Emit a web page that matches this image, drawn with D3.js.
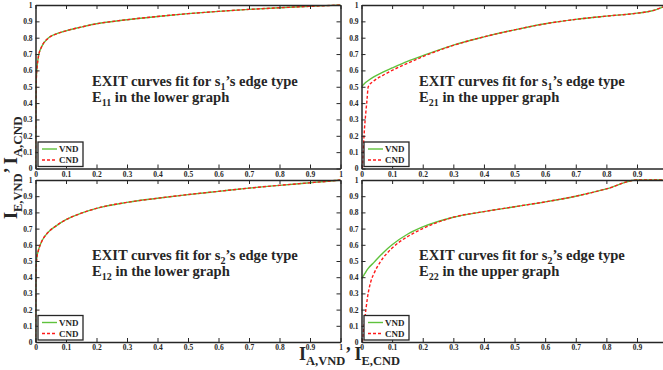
<!DOCTYPE html>
<html>
<head>
<meta charset="utf-8">
<script src="https://cdn.jsdelivr.net/npm/d3@7"></script>
<style>
  body { margin: 0; background: #fff; }
  svg { display: block; font-family: "Liberation Serif", "Times New Roman", serif; font-weight: bold; }
</style>
</head>
<body>
<svg id="chart" width="663" height="370"></svg>
<script>
// tick values and labels shared by all four panels
const tickValues = [0, 0.1, 0.2, 0.3, 0.4, 0.5, 0.6, 0.7, 0.8, 0.9, 1];
const tickLabels = ['0', '0.1', '0.2', '0.3', '0.4', '0.5', '0.6', '0.7', '0.8', '0.9', '1'];

// common x grid (I_A) for the VND curves
const xGrid = [0, 0.001, 0.003, 0.005, 0.01, 0.02, 0.04, 0.07, 0.1, 0.15, 0.2, 0.3, 0.4, 0.5, 0.6, 0.7, 0.8, 0.9, 0.95, 1];

// E11 : s1 edge type, lower graph
const e11Vnd = [0, 0.42, 0.57, 0.62, 0.69, 0.745, 0.795, 0.825, 0.842, 0.865, 0.885, 0.91, 0.93, 0.947, 0.961, 0.973, 0.983, 0.992, 0.996, 1];
const e11Cnd = [0, 0.40, 0.56, 0.615, 0.688, 0.744, 0.794, 0.824, 0.842, 0.865, 0.885, 0.91, 0.93, 0.947, 0.961, 0.973, 0.983, 0.992, 0.996, 1];

// E21 : s1 edge type, upper graph
const e21Vnd = [0.5, 0.502, 0.506, 0.51, 0.52, 0.535, 0.56, 0.59, 0.615, 0.655, 0.69, 0.755, 0.805, 0.848, 0.885, 0.912, 0.932, 0.95, 0.965, 1];
const e21CndX = [0.003, 0.006, 0.01, 0.014, 0.018, 0.022, 0.04, 0.07, 0.1, 0.15, 0.2, 0.3, 0.4, 0.5, 0.6, 0.7, 0.8, 0.9, 0.95, 1];
const e21Cnd = [0, 0.12, 0.25, 0.34, 0.42, 0.5, 0.535, 0.57, 0.6, 0.643, 0.684, 0.753, 0.805, 0.848, 0.885, 0.912, 0.932, 0.95, 0.965, 1];

// E12 : s2 edge type, lower graph
const e12Vnd = [0, 0.45, 0.5, 0.53, 0.57, 0.62, 0.675, 0.72, 0.755, 0.795, 0.825, 0.862, 0.887, 0.91, 0.93, 0.95, 0.967, 0.983, 0.991, 1];
const e12Cnd = [0, 0.44, 0.495, 0.528, 0.568, 0.619, 0.674, 0.72, 0.755, 0.795, 0.825, 0.862, 0.887, 0.91, 0.93, 0.95, 0.967, 0.983, 0.991, 1];

// E22 : s2 edge type, upper graph
const e22Vnd = [0.39, 0.393, 0.4, 0.405, 0.42, 0.45, 0.49, 0.55, 0.6, 0.665, 0.71, 0.77, 0.805, 0.835, 0.865, 0.9, 0.945, 1, 1, 1];
const e22CndX = [0.003, 0.006, 0.01, 0.015, 0.02, 0.03, 0.04, 0.06, 0.1, 0.15, 0.2, 0.3, 0.4, 0.5, 0.6, 0.7, 0.8, 0.9, 0.95, 1];
const e22Cnd = [0, 0.06, 0.13, 0.21, 0.28, 0.37, 0.42, 0.49, 0.58, 0.65, 0.70, 0.77, 0.805, 0.835, 0.865, 0.9, 0.945, 1, 1, 1];

const legendNames = ['VND', 'CND'];

const panels = [
  { col: 0, row: 0, sub: '1', edge: '11', where: 'lower', vx: xGrid, vy: e11Vnd, cx: xGrid, cy: e11Cnd },
  { col: 1, row: 0, sub: '1', edge: '21', where: 'upper', vx: xGrid, vy: e21Vnd, cx: e21CndX, cy: e21Cnd },
  { col: 0, row: 1, sub: '2', edge: '12', where: 'lower', vx: xGrid, vy: e12Vnd, cx: xGrid, cy: e12Cnd },
  { col: 1, row: 1, sub: '2', edge: '22', where: 'upper', vx: xGrid, vy: e22Vnd, cx: e22CndX, cy: e22Cnd }
];

const cols = [[35.5, 340.5], [361.5, 667.6]];
const rows = [[5, 168.5], [180, 342]];
const green = '#5fc23c', red = '#ff1a1a', ink = '#262626';

const svg = d3.select('#chart');

panels.forEach((p, i) => {
  const [x0, x1] = cols[p.col];
  const [y0, y1] = rows[p.row];
  const x = d3.scaleLinear().domain([0, 1]).range([x0, x1]);
  const y = d3.scaleLinear().domain([0, 1]).range([y1, y0]);
  const g = svg.append('g');

  g.append('clipPath').attr('id', 'clip' + i)
    .append('rect').attr('x', x0).attr('y', y0 - 1).attr('width', x1 - x0).attr('height', y1 - y0 + 1);

  const line = d3.line().x(d => x(d[0])).y(d => y(d[1])).curve(d3.curveMonotoneX);
  const vnd = p.vx.map((v, j) => [v, p.vy[j]]);
  const cnd = p.cx.map((v, j) => [v, p.cy[j]]);

  const curves = g.append('g').attr('clip-path', `url(#clip${i})`);
  curves.append('path').attr('d', line(vnd)).attr('fill', 'none')
    .attr('stroke', green).attr('stroke-width', 1.4);
  curves.append('path').attr('d', line(cnd)).attr('fill', 'none')
    .attr('stroke', red).attr('stroke-width', 1.4).attr('stroke-dasharray', '3,2');

  // the right column runs past the window edge, its "1" label is not visible
  const fmt = (d, k) => (p.col === 1 && k === tickLabels.length - 1) ? '' : tickLabels[k];
  const styleAxis = a => {
    a.selectAll('path.domain').attr('stroke', ink).attr('stroke-width', 1.5);
    a.selectAll('.tick line').attr('stroke', ink).attr('stroke-width', 1);
    a.selectAll('.tick text').attr('fill', ink).attr('font-size', 7.5)
      .attr('font-family', '"Liberation Serif", serif').attr('font-weight', 'bold');
  };

  g.append('g').attr('transform', `translate(0,${y1})`)
    .call(d3.axisBottom(x).tickValues(tickValues).tickFormat(fmt).tickSizeInner(-4).tickSizeOuter(0).tickPadding(3))
    .call(styleAxis);
  g.append('g').attr('transform', `translate(${x0},0)`)
    .call(d3.axisLeft(y).tickValues(tickValues).tickFormat((d, k) => tickLabels[k]).tickSizeInner(-4).tickSizeOuter(0).tickPadding(3))
    .call(styleAxis);
  g.append('g').attr('transform', `translate(0,${y0})`)
    .call(d3.axisTop(x).tickValues(tickValues).tickFormat('').tickSizeInner(-4).tickSizeOuter(0))
    .call(styleAxis);
  g.append('g').attr('transform', `translate(${x1},0)`)
    .call(d3.axisRight(y).tickValues(tickValues).tickFormat('').tickSizeInner(-4).tickSizeOuter(0))
    .call(styleAxis);

  // annotation
  const tx = p.col === 0 ? 92 : 419;
  const ty = p.row === 0 ? 86 : 260;
  const t1 = g.append('text').attr('x', tx).attr('y', ty).attr('font-size', 14.6).attr('fill', ink);
  t1.append('tspan').text('EXIT curves fit for s');
  t1.append('tspan').attr('font-size', 10).attr('dy', 4).text(p.sub);
  t1.append('tspan').attr('dy', -4).text('\u2019s edge type');
  const t2 = g.append('text').attr('x', tx).attr('y', ty + 16).attr('font-size', 14.6).attr('fill', ink);
  t2.append('tspan').text('E');
  t2.append('tspan').attr('font-size', 10).attr('dy', 4).text(p.edge);
  t2.append('tspan').attr('dy', -4).text(' in the ' + p.where + ' graph');

  // legend
  const lx = x0 + 2.5, ly = y1 - 26.5;
  const lg = g.append('g');
  lg.append('rect').attr('x', lx).attr('y', ly).attr('width', 45).attr('height', 24.5)
    .attr('fill', '#fff').attr('stroke', ink).attr('stroke-width', 1.3);
  legendNames.forEach((name, k) => {
    const yy = ly + 7 + k * 11;
    lg.append('line').attr('x1', lx + 4).attr('x2', lx + 19).attr('y1', yy).attr('y2', yy)
      .attr('stroke', k === 0 ? green : red).attr('stroke-width', 1.4)
      .attr('stroke-dasharray', k === 0 ? null : '3,2');
    lg.append('text').attr('x', lx + 21).attr('y', yy + 3.2).attr('font-size', 9).attr('fill', ink).text(name);
  });
});

// axis labels
const ylab = svg.append('text').attr('transform', 'translate(17,219) rotate(-90)')
  .attr('font-size', 18).attr('fill', ink);
ylab.append('tspan').text('I');
ylab.append('tspan').attr('font-size', 12.5).attr('dy', 5).text('E,VND');
ylab.append('tspan').attr('dy', -5).text('\u2019  I');
ylab.append('tspan').attr('font-size', 13).attr('dy', 5).text('A,CND');

const xlab = svg.append('text').attr('x', 299).attr('y', 360)
  .attr('font-size', 18).attr('fill', ink);
xlab.append('tspan').text('I');
xlab.append('tspan').attr('font-size', 12.5).attr('dy', 5).text('A,VND');
xlab.append('tspan').attr('dy', -5).text('\u2019 I');
xlab.append('tspan').attr('font-size', 12.5).attr('dy', 5).text('E,CND');
</script>
</body>
</html>
